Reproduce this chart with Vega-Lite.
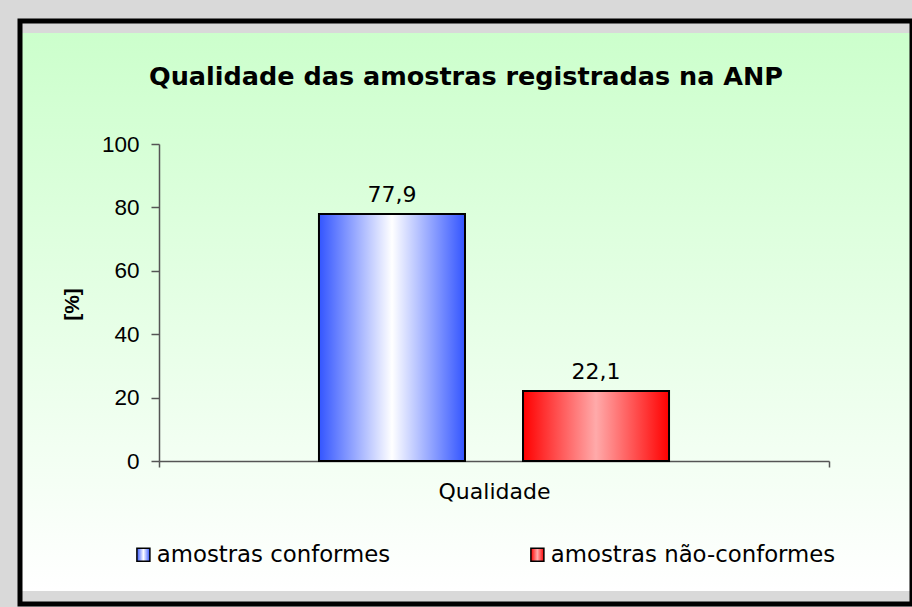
{
  "$schema": "https://vega.github.io/schema/vega-lite/v6.json",
  "width": 892,
  "height": 583,
  "autosize": {"type": "none"},
  "padding": {"left": 20, "top": 21, "right": 0, "bottom": 3},
  "background": "#d9d9d9",
  "view": {
    "fill": {
      "gradient": "linear", "x1": 0, "y1": 0, "x2": 0, "y2": 1,
      "stops": [
        {"offset": 0, "color": "#d9d9d9"},
        {"offset": 0.0206, "color": "#d9d9d9"},
        {"offset": 0.0206, "color": "#ccffcc"},
        {"offset": 0.977, "color": "#ffffff"},
        {"offset": 0.977, "color": "#d9d9d9"},
        {"offset": 1, "color": "#d9d9d9"}
      ]
    },
    "stroke": "#000000",
    "strokeWidth": 5
  },
  "title": {
    "text": "Qualidade das amostras registradas na ANP",
    "font": "DejaVu Sans",
    "fontSize": 25.5,
    "fontWeight": "bold",
    "color": "#000000",
    "anchor": "middle",
    "offset": -89,
    "baseline": "alphabetic"
  },
  "data": {
    "values": [
      {"categoria": "Qualidade", "serie": "amostras conformes", "valor": 77.9, "rotulo": "77,9"},
      {"categoria": "Qualidade", "serie": "amostras não-conformes", "valor": 22.1, "rotulo": "22,1"}
    ]
  },
  "encoding": {
    "x": {
      "field": "categoria",
      "type": "nominal",
      "scale": {"range": [139, 809], "paddingInner": 0, "paddingOuter": 0},
      "axis": {
        "title": null,
        "labelAngle": 0,
        "offset": -143,
        "tickBand": "extent",
        "tickSize": 6,
        "labelFont": "DejaVu Sans",
        "labelFontSize": 22,
        "labelPadding": 14,
        "labelColor": "#000000",
        "domainColor": "#555555",
        "tickColor": "#555555",
        "domainWidth": 1.5,
        "tickWidth": 1.5
      }
    },
    "xOffset": {
      "field": "serie",
      "type": "nominal",
      "sort": ["amostras conformes", "amostras não-conformes"],
      "scale": {"paddingInner": 0.2843, "paddingOuter": 0.784}
    },
    "y": {
      "field": "valor",
      "type": "quantitative",
      "scale": {"domain": [0, 100], "range": [440, 123], "nice": false, "zero": true},
      "axis": {
        "values": [0, 20, 40, 60, 80, 100],
        "offset": -139,
        "grid": false,
        "title": "[%]",
        "titleFont": "Liberation Sans",
        "titleFontSize": 21,
        "titleFontWeight": "bold",
        "titleColor": "#000000",
        "titleX": -87,
        "titleY": 283,
        "titleAngle": 270,
        "titleAlign": "center",
        "titleBaseline": "middle",
        "labelFont": "Liberation Sans",
        "labelFontSize": 22.5,
        "labelColor": "#000000",
        "labelPadding": 12,
        "tickSize": 8,
        "tickColor": "#555555",
        "domainColor": "#555555",
        "domainWidth": 1.5,
        "tickWidth": 1.5
      }
    }
  },
  "layer": [
    {
      "mark": {"type": "bar", "stroke": "#000000", "strokeWidth": 2},
      "encoding": {
        "fill": {
          "field": "serie",
          "type": "nominal",
          "scale": {
            "domain": ["amostras conformes", "amostras não-conformes"],
            "range": [
              {"expr": "{gradient: 'linear', x1: 0, y1: 0, x2: 1, y2: 0, stops: [{offset: 0, color: '#3355ff'}, {offset: 0.5, color: '#ffffff'}, {offset: 1, color: '#3355ff'}]}"},
              {"expr": "{gradient: 'linear', x1: 0, y1: 0, x2: 1, y2: 0, stops: [{offset: 0, color: '#ff0000'}, {offset: 0.5, color: '#ffaaaa'}, {offset: 1, color: '#ff0000'}]}"}
            ]
          },
          "legend": {
            "orient": "none",
            "legendX": 112,
            "legendY": 522,
            "direction": "horizontal",
            "title": null,
            "symbolType": "square",
            "symbolSize": 169,
            "symbolStrokeColor": "#000000",
            "symbolStrokeWidth": 1.5,
            "labelFont": "DejaVu Sans",
            "labelFontSize": 22.8,
            "labelColor": "#000000",
            "labelLimit": 400,
            "labelOffset": 2,
            "columnPadding": 135,
            "padding": 0
          }
        }
      }
    },
    {
      "mark": {"type": "text", "font": "DejaVu Sans", "fontSize": 22, "dy": -12, "baseline": "alphabetic", "color": "#000000"},
      "encoding": {"text": {"field": "rotulo"}}
    }
  ]
}
